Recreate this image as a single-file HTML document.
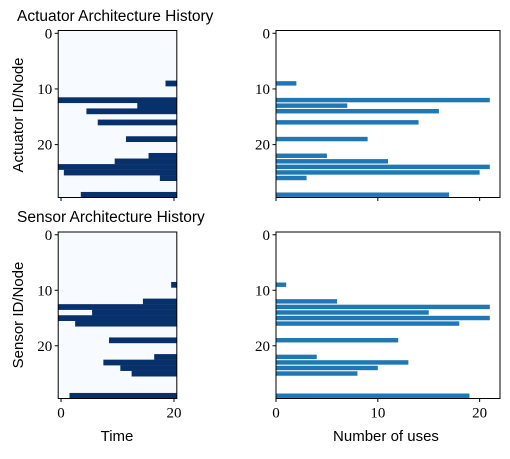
<!DOCTYPE html>
<html><head><meta charset="utf-8"><style>
body{margin:0;background:#fff}
svg text{fill:#000}
.tk{font-family:"Liberation Serif",serif;font-size:15px}
.lb{font-family:"Liberation Sans",sans-serif;font-size:15px}
.tt{font-family:"Liberation Sans",sans-serif;font-size:15.5px}
</style></head><body>
<svg id="fig" width="510" height="454" viewBox="0 0 510 454"></svg>
<script>
// ---- data ----
const timeSteps = 21;
const nodeCount = 30;
const actRows = [9, 12, 13, 14, 16, 19, 22, 23, 24, 25, 26, 29];
const actStart = [19, 0, 14, 5, 7, 12, 16, 10, 0, 1, 18, 4];
const actUses = [2, 21, 7, 16, 14, 9, 5, 11, 21, 20, 3, 17];
const senRows = [9, 12, 13, 14, 15, 16, 19, 22, 23, 24, 25, 29];
const senStart = [20, 15, 0, 6, 0, 3, 9, 17, 8, 11, 13, 2];
const senUses = [1, 6, 21, 15, 21, 18, 12, 4, 13, 10, 8, 19];
const yTicks = [0, 10, 20];
const timeTicks = [0, 20];
const useTicks = [0, 10, 20];
const useMax = 22;

const svg = document.getElementById('fig');
const NS = 'http://www.w3.org/2000/svg';
function mk(tag, attrs, parent) {
  const e = document.createElementNS(NS, tag);
  for (const k in attrs) e.setAttribute(k, attrs[k]);
  (parent || svg).appendChild(e);
  return e;
}
function txt(s, x, y, cls, anchor, parent) {
  const t = mk('text', {x: x, y: y, class: cls, 'text-anchor': anchor || 'middle'}, parent);
  t.textContent = s;
  return t;
}

function panel(top, bottom, rows, starts, uses, kind, showXLabels) {
  const hL = 58.2, hR = 176.8;
  const cw = (hR - hL) / timeSteps, rh = (bottom - top) / nodeCount;
  const xT = t => hL + (t + 0.5) * cw;
  const yR = r => top + (r + 0.5) * rh;
  const hm = mk('g', {});
  
  
  mk('rect', {x: hL, y: top, width: hR - hL, height: bottom - top, fill: '#f7fbff'}, hm);
  rows.forEach((r, i) => {
    const c = mk('rect', {x: xT(starts[i]) - cw / 2, y: yR(r) - rh / 2, width: (timeSteps - starts[i]) * cw, height: rh + 0.2, fill: '#08306b'}, hm);
    
    
  });
  mk('rect', {x: hL, y: top, width: hR - hL, height: bottom - top, fill: 'none', stroke: '#000', 'stroke-width': 1}, hm);
  yTicks.forEach(v => {
    mk('line', {x1: hL - 3.5, x2: hL, y1: yR(v), y2: yR(v), stroke: '#000'}, hm);
    txt(String(v), hL - 6, yR(v) + 5, 'tk', 'end', hm);
  });
  timeTicks.forEach(v => {
    mk('line', {x1: xT(v), x2: xT(v), y1: bottom, y2: bottom + 3.5, stroke: '#000'}, hm);
    if (showXLabels) txt(String(v), xT(v), bottom + 19, 'tk', 'middle', hm);
  });
  const bL = 276, bR = 500;
  const xU = u => bL + u / useMax * (bR - bL);
  const bg = mk('g', {});
  
  
  rows.forEach((r, i) => {
    const b = mk('rect', {x: bL, y: yR(r) - 0.4 * rh, width: xU(uses[i]) - bL, height: 0.8 * rh, fill: '#1f77b4'}, bg);
    
    
  });
  mk('rect', {x: bL, y: top, width: bR - bL, height: bottom - top, fill: 'none', stroke: '#000'}, bg);
  yTicks.forEach(v => {
    mk('line', {x1: bL - 3.5, x2: bL, y1: yR(v), y2: yR(v), stroke: '#000'}, bg);
    txt(String(v), bL - 6, yR(v) + 5, 'tk', 'end', bg);
  });
  useTicks.forEach(v => {
    mk('line', {x1: xU(v), x2: xU(v), y1: bottom, y2: bottom + 3.5, stroke: '#000'}, bg);
    if (showXLabels) txt(String(v), xU(v), bottom + 19, 'tk', 'middle', bg);
  });
}

panel(30.5, 197.5, actRows, actStart, actUses, 'actuator', false);
panel(232, 398.5, senRows, senStart, senUses, 'sensor', true);

let t;
t = txt('Actuator Architecture History', 17, 21, 'tt', 'start');
 
t = txt('Sensor Architecture History', 17, 222, 'tt', 'start');
 
t = txt('Actuator ID/Node', 0, 0, 'lb', 'middle');
t.setAttribute('transform', 'translate(23,115) rotate(-90)');
 
t = txt('Sensor ID/Node', 0, 0, 'lb', 'middle');
t.setAttribute('transform', 'translate(23,315) rotate(-90)');
 
t = txt('Time', 117, 441, 'lb', 'middle');
 
t = txt('Number of uses', 386, 441, 'lb', 'middle');
 
</script>
</body></html>
